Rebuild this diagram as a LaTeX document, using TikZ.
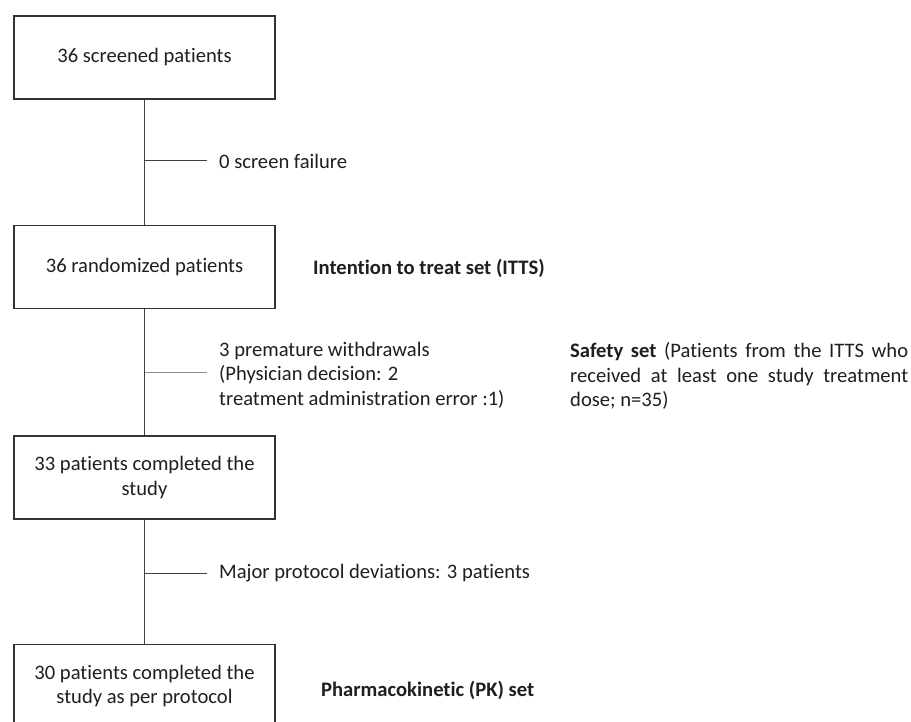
\documentclass[tikz,border=0pt]{standalone}
\usepackage{fontspec}
\setmainfont{Carlito}[Ligatures={NoCommon}]
\begin{document}
\begin{tikzpicture}[x=1pt,y=-1pt,
  every node/.style={font=\fontsize{20.6}{24.5}\selectfont, text=black!88},
  box/.style={draw=black!80, line width=1.2pt, minimum width=261pt, minimum height=83pt, align=center, inner sep=0pt},
  lab/.style={anchor=west, inner xsep=12pt, inner ysep=0pt, align=left},
  conn/.style={draw=black!75, line width=1pt},
  thinconn/.style={draw=black!45, line width=0.8pt},
  setlab/.style={anchor=west, inner sep=0pt, font=\fontsize{20.6}{24.5}\selectfont\bfseries}
]
\clip (0,0) rectangle (911,722);
\fill[white] (0,0) rectangle (911,722);

\node[box] (b1) at (144.5,57.5) {36 screened patients};
\node[box] (b2) at (144.5,267) {36 randomized patients};
\node[box] (b3) at (144.5,477.5) {33 patients completed the\\study};
\node[box] (b4) at (144.5,686) {30 patients completed the\\study as per protocol};

\draw[conn] (b1) -- (b2);
\draw[conn] (b2) -- (b3);
\draw[conn] (b3) -- (b4);

\node[lab] (l1) at (207,161) {0 screen failure};
\node[lab] (l2) at (207,375) {3 premature withdrawals\\(Physician decision: 2\\treatment administration error :1)};
\node[lab] (l3) at (207,573) {Major protocol deviations: 3 patients};

\draw[conn] (b1 |- l1) -- (l1.west);
\draw[thinconn] (b2 |- 0,372) coordinate (c2) -- (207,372) coordinate (e2);
\draw[conn] (b3 |- l3) -- (l3.west);

\node[setlab] (s1) at (313,268) {Intention to treat set (ITTS)};
\node[anchor=west, inner sep=0pt, text width=338pt, align=justify] (s2) at (570,376)
  {\textbf{Safety set} (Patients from the ITTS who\linebreak received at least one study treatment\linebreak dose; n=35)};
\node[setlab] (s3) at (321,690) {Pharmacokinetic (PK) set};
\end{tikzpicture}
\end{document}
